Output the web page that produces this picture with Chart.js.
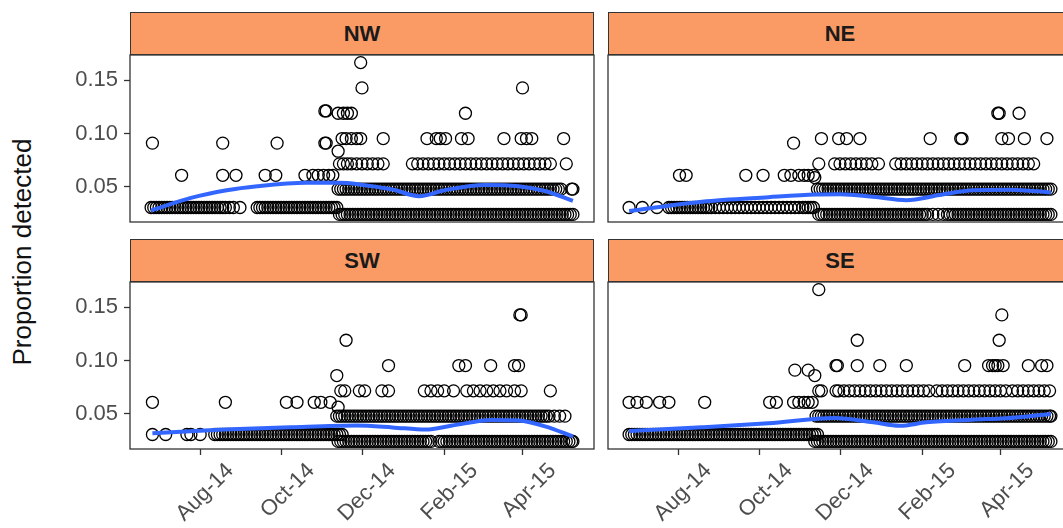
<!DOCTYPE html>
<html>
<head>
<meta charset="utf-8">
<script src="https://cdn.jsdelivr.net/npm/chart.js@4.4.1/dist/chart.umd.min.js"></script>
<style>
  body { margin: 0; background: #fff; }
  #wrap { position: relative; width: 1063px; height: 528px; overflow: hidden; background: #fff;
          font-family: "Liberation Sans", Arial, sans-serif; }
  .strip { position: absolute; box-sizing: border-box; height: 43px; background: #FA9A64;
           border: 1.3px solid #333; font-weight: bold; font-size: 22px; color: #1a1a1a;
           text-align: center; line-height: 41px; }
  canvas { position: absolute; }
  #ytitle { position: absolute; left: 22px; top: 252px; transform: translate(-50%, -50%) rotate(-90deg);
            white-space: nowrap; font-size: 26px; color: #111; }
</style>
</head>
<body>
<div id="wrap">
  <div id="ytitle">Proportion detected</div>
</div>
<script>
// x values are days since 1 Aug 2014
const panelNames = ['NW', 'NE', 'SW', 'SE'];
const tickDates = ['2014-08-01', '2014-10-01', '2014-12-01', '2015-02-01', '2015-04-01'];
const tickLabels = ['Aug-14', 'Oct-14', 'Dec-14', 'Feb-15', 'Apr-15'];
const yTicks = [0.05, 0.10, 0.15];

// [proportion detected, days it was seen]
const nwRows = [
  [0.0303, [-37, -35, -33, -31, -29, -27, -25, -23, -21, -19, -17, -15, -13, -11, -9, -7, -5, -3, -1, 1, 3, 5, 7,
            9, 11, 13, 15, 17, 19, 22, 25, 30,
            43, 45, 47, 49, 51, 53, 55, 57, 59, 61, 63, 65, 67, 69, 71, 73, 75, 77, 79, 81, 83, 85, 87, 89, 91,
            93, 95, 97, 99, 101, 103]],
  [0.0606, [-14, 17, 27, 49, 57, 79, 85, 89, 93, 97, 100]],
  [0.0833, [104]],
  [0.0909, [-36, 17, 58, 94, 95]],
  [0.1212, [94, 95]],
  [0.0238, [105, 107, 109, 111, 113, 115, 117, 119, 121, 123, 125, 127, 129, 131, 133, 135, 137, 139, 141, 143,
            145, 147, 149, 151, 153, 155, 157, 159, 161, 163, 165, 167, 169, 171, 173, 175, 177, 179, 181, 183,
            185, 187, 189, 191, 193, 195, 197, 199, 201, 203, 205, 207, 209, 211, 213, 215, 217, 219, 221, 223,
            225, 227, 229, 231, 233, 235, 237, 239, 241, 243, 245, 247, 249, 251, 253, 255, 257, 259, 261, 263,
            265, 267, 269, 271, 273, 275, 277, 279, 281]],
  [0.0476, [104, 106, 108, 110, 112, 114, 116, 118, 120, 122, 124, 126, 128, 130, 132, 134, 136, 138, 140, 142,
            144, 146, 148, 150, 152, 154, 156, 158, 160, 162, 164, 166, 168, 170, 172, 174, 176, 178, 180, 182,
            184, 186, 188, 190, 192, 194, 196, 198, 200, 202, 204, 206, 208, 210, 212, 214, 216, 218, 220, 222,
            224, 226, 228, 230, 232, 234, 236, 238, 240, 242, 244, 246, 248, 250, 252, 254, 256, 258, 260, 262,
            264, 266, 268, 270, 272, 280, 281]],
  [0.0714, [105, 108, 111, 114, 118, 122, 126, 130, 134, 138, 160, 164, 168, 172, 176, 180, 184, 188, 192, 196,
            200, 204, 208, 212, 216, 220, 224, 228, 232, 236, 240, 244, 248, 252, 256, 260, 264, 276]],
  [0.0952, [107, 110, 114, 118, 121, 138, 171, 178, 181, 185, 197, 202, 229, 242, 246, 250, 274]],
  [0.1190, [104, 108, 111, 114, 200]],
  [0.1429, [122, 243]],
  [0.1667, [121]]
];
const neRows = [
  [0.0303, [-37, -27, -16, -7, -5, -3, -1, 1, 3, 5, 7, 9, 11, 13, 15, 17, 19, 21, 23, 25, 28, 31, 34, 37, 40,
            43, 46, 49, 52, 55, 58, 61, 64, 67, 70, 73, 76, 79, 82, 85, 88, 91, 94, 96, 98, 100, 102]],
  [0.0606, [1, 6, 51, 64, 80, 85, 91, 95, 98, 102]],
  [0.0585, [103]],
  [0.0909, [87]],
  [0.0238, [106, 108, 110, 112, 114, 116, 118, 120, 122, 124, 126, 128, 130, 132, 134, 136, 138, 140, 142, 144,
            146, 148, 150, 152, 154, 156, 158, 160, 162, 164, 166, 168, 170, 172, 174, 176, 178, 180, 182, 184,
            186, 188, 192, 196, 200, 203, 205, 207, 209, 211, 213, 215, 217, 219, 221, 223, 225, 227, 229, 231,
            233, 235, 237, 239, 241, 243, 245, 247, 249, 251, 253, 255, 257, 259, 261, 263, 265, 267, 269, 271,
            273, 275, 277, 279, 281]],
  [0.0476, [105, 107, 109, 111, 113, 115, 117, 119, 121, 123, 125, 127, 129, 131, 133, 135, 137, 139, 141, 143,
            145, 147, 149, 151, 153, 155, 157, 159, 161, 163, 165, 167, 169, 171, 173, 175, 177, 179, 181, 183,
            185, 187, 189, 191, 193, 195, 197, 199, 201, 203, 205, 207, 209, 211, 213, 215, 217, 219, 221, 223,
            225, 227, 229, 231, 233, 235, 237, 239, 241, 243, 245, 247, 249, 251, 253, 255, 257, 259, 261, 263,
            265, 267, 269, 271, 273, 275, 277, 279, 281]],
  [0.0714, [106, 118, 122, 126, 130, 134, 138, 142, 146, 151, 164, 168, 172, 176, 180, 184, 188, 192, 196, 200,
            204, 208, 212, 216, 220, 224, 228, 232, 236, 240, 244, 248, 252, 256, 260, 264, 268]],
  [0.0952, [108, 121, 127, 137, 190, 213, 214, 244, 249, 261, 278]],
  [0.1190, [241, 242, 257]]
];
const swRows = [
  [0.0303, [-36, -26, -10, -7, 0, 11, 13, 15, 17, 19, 21, 23, 25, 27, 29, 31, 33, 35, 37, 39, 41, 43, 45, 47,
            49, 51, 53, 55, 57, 59, 61, 63, 65, 67, 69, 71, 73, 75, 77, 79, 81, 83, 85, 87, 89, 91, 93, 95, 97,
            99, 101, 103, 105, 107]],
  [0.0606, [-36, 19, 65, 73, 86, 91, 98]],
  [0.0858, [103]],
  [0.0560, [104]],
  [0.0238, [104, 106, 108, 110, 112, 114, 116, 118, 120, 122, 124, 126, 128, 130, 132, 134, 136, 138, 140, 142,
            144, 146, 148, 150, 152, 154, 156, 158, 160, 162, 164, 166, 168, 170, 172, 174, 180, 182, 184, 186,
            188, 190, 192, 194, 196, 198, 200, 202, 204, 206, 208, 210, 212, 214, 216, 218, 220, 222, 224, 226,
            228, 230, 232, 234, 236, 238, 240, 242, 244, 246, 248, 250, 252, 254, 256, 258, 260, 262, 264, 266,
            268, 270, 272, 274, 276, 278, 280, 281]],
  [0.0476, [103, 105, 107, 109, 111, 113, 115, 117, 119, 121, 123, 125, 127, 129, 131, 133, 135, 137, 139, 141,
            143, 145, 147, 149, 151, 153, 155, 157, 159, 161, 163, 165, 167, 169, 171, 173, 175, 177, 179, 181,
            183, 185, 187, 189, 191, 193, 195, 197, 199, 201, 203, 205, 207, 209, 211, 213, 215, 217, 219, 221,
            223, 225, 227, 229, 231, 233, 235, 237, 239, 241, 243, 245, 247, 249, 251, 253, 255, 257, 259, 261,
            263, 267, 271, 275]],
  [0.0714, [106, 109, 120, 124, 137, 142, 169, 174, 179, 184, 191, 201, 206, 211, 216, 221, 226, 231, 237, 242, 264]],
  [0.0952, [142, 195, 200, 219, 237, 240]],
  [0.1190, [110]],
  [0.1429, [241, 242]]
];
const seRows = [
  [0.0303, [-37, -35, -33, -31, -29, -27, -25, -23, -21, -19, -17, -15, -13, -11, -9, -7, -5, -3, -1, 1, 3, 5, 7,
            9, 11, 13, 15, 17, 19, 21, 23, 25, 27, 29, 31, 33, 35, 37, 39, 41, 43, 45, 47, 49, 51, 53, 55, 57,
            59, 61, 63, 65, 67, 69, 71, 73, 75, 77, 79, 81, 83, 85, 87, 89, 91, 93, 95, 97, 99, 101, 103, 105]],
  [0.0606, [-37, -31, -24, -14, -7, 20, 69, 74, 87, 91, 95, 98, 101]],
  [0.0858, [103]],
  [0.0909, [88, 98]],
  [0.0238, [103, 105, 107, 109, 111, 113, 115, 117, 119, 121, 123, 125, 127, 129, 131, 133, 135, 137, 139, 141,
            143, 145, 147, 149, 151, 153, 155, 157, 159, 161, 163, 165, 167, 169, 171, 173, 175, 177, 179, 181,
            183, 185, 187, 189, 191, 193, 195, 197, 199, 201, 203, 205, 207, 209, 211, 213, 215, 217, 219, 221,
            223, 225, 227, 229, 231, 233, 235, 237, 239, 241, 243, 245, 247, 249, 251, 253, 255, 257, 259, 261,
            263, 265, 267, 269, 271, 273, 275, 277, 279, 281]],
  [0.0476, [104, 106, 108, 110, 112, 114, 116, 118, 120, 122, 124, 126, 128, 130, 132, 134, 136, 138, 140, 142,
            144, 146, 148, 150, 152, 154, 156, 158, 160, 162, 164, 166, 168, 170, 172, 174, 176, 178, 180, 182,
            184, 186, 188, 190, 192, 194, 196, 198, 200, 202, 204, 206, 208, 210, 212, 214, 216, 218, 220, 222,
            224, 226, 228, 230, 232, 234, 236, 238, 240, 242, 244, 246, 248, 250, 252, 254, 256, 258, 260, 262,
            264, 266, 268, 270, 272, 274, 276, 278, 280, 281]],
  [0.0714, [106, 108, 119, 121, 125, 129, 133, 137, 141, 145, 149, 153, 157, 161, 165, 169, 173, 177, 181, 185,
            189, 195, 199, 203, 207, 211, 215, 219, 223, 227, 231, 235, 239, 243, 247, 252, 256, 260, 264, 268,
            272, 276, 280]],
  [0.0952, [119, 120, 135, 152, 172, 216, 234, 237, 239, 241, 245, 264, 274, 278]],
  [0.1190, [135, 242]],
  [0.1429, [244]],
  [0.1667, [106]]
];

// loess trend
const nwSmoothDay = [-37, -7, 20, 43, 80, 105, 120, 145, 165, 185, 215, 240, 260, 281];
const nwSmoothProp = [0.0274, 0.0393, 0.0465, 0.0503, 0.0535, 0.0535, 0.0520, 0.0472, 0.0410, 0.0468, 0.0515, 0.0503, 0.0458, 0.0365];
const neSmoothDay = [-37, 18, 68, 104, 122, 147, 172, 197, 222, 250, 281];
const neSmoothProp = [0.0270, 0.0358, 0.0400, 0.0425, 0.0428, 0.0405, 0.0372, 0.0420, 0.0465, 0.0470, 0.0445];
const swSmoothDay = [-36, 18, 68, 118, 145, 170, 190, 220, 240, 260, 281];
const swSmoothProp = [0.0314, 0.0349, 0.0371, 0.0387, 0.0370, 0.0349, 0.0387, 0.0440, 0.0434, 0.0380, 0.0285];
const seSmoothDay = [-37, 18, 68, 118, 147, 167, 187, 222, 247, 281];
const seSmoothProp = [0.0335, 0.0371, 0.0409, 0.0458, 0.0418, 0.0385, 0.0418, 0.0443, 0.0456, 0.0497];

const panels = [
  { rows: nwRows, sd: nwSmoothDay, sp: nwSmoothProp, col: 0, row: 0 },
  { rows: neRows, sd: neSmoothDay, sp: neSmoothProp, col: 1, row: 0 },
  { rows: swRows, sd: swSmoothDay, sp: swSmoothProp, col: 0, row: 1 },
  { rows: seRows, sd: seSmoothDay, sp: seSmoothProp, col: 1, row: 1 }
];

const day0 = Date.parse('2014-08-01');
const tickDays = tickDates.map(s => (Date.parse(s) - day0) / 864e5);

// shared (fixed) scales with 5% expansion, like facet_wrap
const allDays = panels.flatMap(p => p.rows.flatMap(r => r[1]));
const allProps = panels.flatMap(p => p.rows.map(r => r[0]));
const dMin = Math.min(...allDays), dMax = Math.max(...allDays);
const pMin = Math.min(...allProps), pMax = Math.max(...allProps);
const xMin = dMin - 0.05 * (dMax - dMin), xMax = dMax + 0.05 * (dMax - dMin);
const yMin = pMin - 0.05 * (pMax - pMin), yMax = pMax + 0.05 * (pMax - pMin);

const plotLeft = [130, 608], plotTop = [55, 282];
const plotW = 464, plotH = 167, stripH = 43;
const tickFont = { family: "'Liberation Sans', Arial, sans-serif", size: 22 };

const panelBorder = {
  id: 'panelBorder',
  afterDatasetsDraw(chart) {
    const a = chart.chartArea, ctx = chart.ctx;
    ctx.save();
    ctx.strokeStyle = '#333333';
    ctx.lineWidth = 1.3;
    ctx.strokeRect(a.left, a.top, a.right - a.left, a.bottom - a.top);
    ctx.restore();
  }
};

const wrap = document.getElementById('wrap');

panels.forEach((p, i) => {
  const left = plotLeft[p.col], top = plotTop[p.row];

  const strip = document.createElement('div');
  strip.className = 'strip';
  strip.textContent = panelNames[i];
  strip.style.left = left + 'px';
  strip.style.top = (top - stripH) + 'px';
  strip.style.width = plotW + 'px';
  wrap.appendChild(strip);

  const showY = p.col === 0, showX = p.row === 1;
  const yw = showY ? 80 : 2, xh = showX ? 80 : 2;
  const canvas = document.createElement('canvas');
  canvas.width = yw + plotW + 2;
  canvas.height = 2 + plotH + xh;
  canvas.style.left = (left - yw) + 'px';
  canvas.style.top = (top - 2) + 'px';
  wrap.appendChild(canvas);

  const points = p.rows.flatMap(([prop, days]) => days.map(d => ({ x: d, y: prop })));
  const smooth = p.sd.map((d, k) => ({ x: d, y: p.sp[k] }));

  new Chart(canvas, {
    type: 'scatter',
    data: {
      datasets: [
        { data: smooth, showLine: true, borderColor: '#3366FF', borderWidth: 4, pointRadius: 0,
          cubicInterpolationMode: 'monotone', order: 0 },
        { data: points, pointRadius: 6, pointHoverRadius: 6, borderWidth: 1.3, borderColor: '#000',
          backgroundColor: 'rgba(0,0,0,0)', order: 1 }
      ]
    },
    options: {
      responsive: false,
      animation: false,
      devicePixelRatio: 1,
      layout: { autoPadding: false, padding: { left: showY ? 0 : 2, top: 2, right: 2, bottom: showX ? 0 : 2 } },
      plugins: { legend: { display: false }, tooltip: { enabled: false } },
      scales: {
        x: {
          type: 'linear', min: xMin, max: xMax, display: showX,
          afterBuildTicks: s => { s.ticks = tickDays.map(v => ({ value: v })); },
          afterFit: s => {
            if (!showX) return;
            s.height = 80; s.paddingLeft = 0; s.paddingRight = 0;
          },
          grid: { drawOnChartArea: false, tickLength: 6, tickColor: '#333333', tickWidth: 1.3 },
          border: { display: false },
          ticks: { autoSkip: false, minRotation: 45, maxRotation: 45, labelOffset: 30, padding: 3,
                   color: '#4D4D4D', font: tickFont, callback: (v, k) => tickLabels[k] }
        },
        y: {
          type: 'linear', min: yMin, max: yMax, display: showY,
          afterBuildTicks: s => { s.ticks = yTicks.map(v => ({ value: v })); },
          afterFit: s => {
            if (!showY) return;
            s.width = 80; s.paddingTop = 0; s.paddingBottom = 0;
          },
          grid: { drawOnChartArea: false, tickLength: 6, tickColor: '#333333', tickWidth: 1.3 },
          border: { display: false },
          ticks: { padding: 6, color: '#4D4D4D', font: tickFont, callback: v => v.toFixed(2) }
        }
      }
    },
    plugins: [panelBorder]
  });
});
</script>
</body>
</html>
